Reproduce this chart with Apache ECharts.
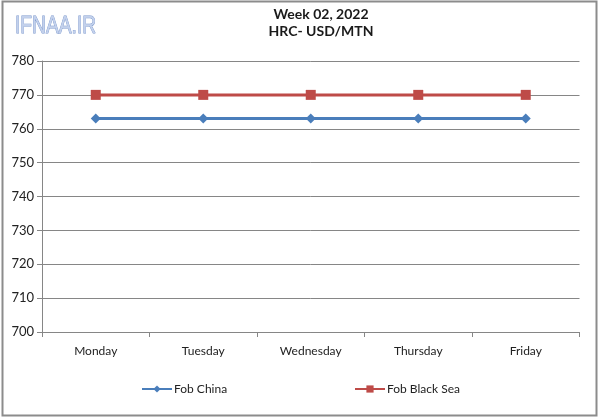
<!DOCTYPE html>
<html><head><meta charset="utf-8">
<script src="https://cdn.jsdelivr.net/npm/echarts@6/dist/echarts.min.js"></script>
<style>html,body{margin:0;padding:0;background:#fff}#c{width:600px;height:419px}</style>
</head><body><div id="c"></div>
<script>
const categories = ['Monday','Tuesday','Wednesday','Thursday','Friday'];
const fobChina = [763,763,763,763,763];
const fobBlackSea = [770,770,770,770,770];
const yMin = 700, yMax = 780, yStep = 10;

const chart = echarts.init(document.getElementById('c'), null, {renderer:'canvas'});
const font = 'Lato, "Open Sans", sans-serif';
chart.setOption({
  animation:false,
  backgroundColor:'#fff',
  title:{
    text:'Week 02, 2022\nHRC- USD/MTN',
    left:321, top:6, textAlign:'center', padding:0,
    textStyle:{fontFamily:font,fontSize:14,fontWeight:'bold',color:'#1a1a1a',lineHeight:17}
  },
  graphic:[
    {type:'rect',shape:{x:2.5,y:1.5,width:594,height:414},style:{fill:'none',stroke:'#8c8c8c',lineWidth:2},silent:true,z:100},
    {type:'text',x:15,y:14,scaleX:0.8,style:{text:'IFNAA.IR',font:'24px "Liberation Sans", Arial, sans-serif',fill:'#c3d1ec',stroke:'#7a96cc',lineWidth:0.9,shadowColor:'rgba(90,100,130,0.45)',shadowBlur:1,shadowOffsetX:1,shadowOffsetY:2},z:50}
  ],
  legend:[
    {data:['Fob China'],left:136,top:378,itemWidth:30,itemHeight:9,
     textStyle:{fontFamily:font,fontSize:12,color:'#222',padding:[0,0,0,-3]}},
    {data:['Fob Black Sea'],left:349,top:378,itemWidth:30,itemHeight:9,
     textStyle:{fontFamily:font,fontSize:12,color:'#222',padding:[0,0,0,-3]}}
  ],
  grid:{left:42,right:20.5,top:61,bottom:87},
  xAxis:{
    type:'category',data:categories,boundaryGap:true,
    axisLine:{lineStyle:{color:'#868686',width:1}},
    axisTick:{show:true,length:5,lineStyle:{color:'#868686'}},
    axisLabel:{fontFamily:font,fontSize:12,color:'#222',margin:13}
  },
  yAxis:{
    type:'value',min:yMin,max:yMax,interval:yStep,
    axisLine:{show:true,lineStyle:{color:'#868686',width:1}},
    axisTick:{show:true,length:5,lineStyle:{color:'#868686'}},
    axisLabel:{fontFamily:font,fontSize:13,color:'#222',margin:8},
    splitLine:{show:true,lineStyle:{color:'#868686',width:1}}
  },
  series:[
    {name:'Fob China',type:'line',data:fobChina,symbol:'diamond',symbolSize:10,
     lineStyle:{color:'#4a7ebb',width:3},itemStyle:{color:'#4a7ebb'}},
    {name:'Fob Black Sea',type:'line',data:fobBlackSea,symbol:'rect',symbolSize:10,
     lineStyle:{color:'#be4b48',width:3},itemStyle:{color:'#be4b48'}}
  ]
});
</script></body></html>
